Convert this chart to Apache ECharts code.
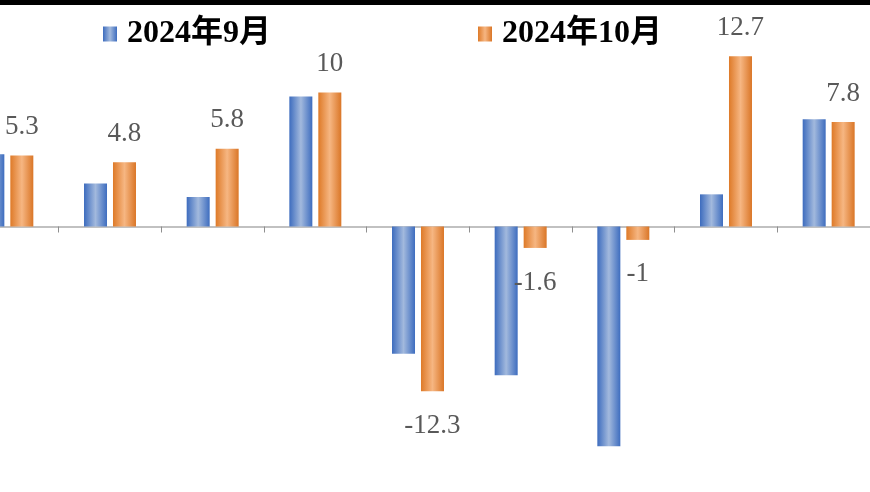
<!DOCTYPE html>
<html>
<head>
<meta charset="utf-8">
<script src="https://cdn.jsdelivr.net/npm/echarts@6/dist/echarts.min.js"></script>
<style>
html,body{margin:0;padding:0;background:#fff;overflow:hidden;width:870px;height:492px;}
#wrap{position:relative;width:870px;height:492px;overflow:hidden;}
/* 图表比窗口宽，左侧第一组被截掉一半 */
#main{position:absolute;left:-44px;top:0;width:924px;height:492px;}
</style>
</head>
<body>
<div id="wrap"><div id="main"></div></div>
<script>
// 数据
var categories = ['类别1', '类别2', '类别3', '类别4', '类别5', '类别6', '类别7', '类别8', '类别9'];
var seriesNames = ['2024年9月', '2024年10月'];
var sepValues = [5.4, 3.2, 2.2, 9.7, -9.5, -11.1, -16.4, 2.4, 8.0];
var octValues = [5.3, 4.8, 5.8, 10, -12.3, -1.6, -1, 12.7, 7.8];

var shiftX = 44; // 画布左移量

var blueGrad = new echarts.graphic.LinearGradient(0, 0, 1, 0, [
    {offset: 0, color: '#3D6CBE'},
    {offset: 0.5, color: '#A2B9DD'},
    {offset: 1, color: '#3E6DBF'}
]);
var orangeGrad = new echarts.graphic.LinearGradient(0, 0, 1, 0, [
    {offset: 0, color: '#DE7A28'},
    {offset: 0.5, color: '#F6B682'},
    {offset: 1, color: '#DA7627'}
]);

// 标签位置按正负
function withLabels(arr){
    var out = [];
    for(var i=0;i<arr.length;i++){
        var v = arr[i];
        out.push({
            value: v,
            label: v >= 0 ? {position: 'top', distance: 15} : {position: 'bottom', distance: 21}
        });
    }
    return out;
}

var legendText = {
    fontSize: 32,
    fontWeight: 'bold',
    color: '#000',
    padding: [0, 0, 0, 5],
    fontFamily: '"Liberation Serif", "Noto Sans CJK SC"'
};

var myChart = echarts.init(document.getElementById('main'));
var option = {
    backgroundColor: '#fff',
    animation: false,
    graphic: [{
        type: 'rect',
        shape: {x: 0, y: 0, width: 924, height: 5},
        style: {fill: '#000'}
    }],
    legend: [{
        data: [{name: seriesNames[0], icon: 'rect'}],
        left: 103 + shiftX,
        top: 18,
        padding: 0,
        itemWidth: 14,
        itemHeight: 15,
        textStyle: legendText
    }, {
        data: [{name: seriesNames[1], icon: 'rect'}],
        left: 478 + shiftX,
        top: 18,
        padding: 0,
        itemWidth: 14,
        itemHeight: 15,
        textStyle: legendText
    }],
    grid: {
        left: 0,
        right: 0,
        top: 25.5,
        bottom: 37.7,
        containLabel: false
    },
    xAxis: {
        type: 'category',
        data: categories,
        axisLine: {show: true, onZero: true, lineStyle: {color: '#ADADAD', width: 1.5}},
        axisTick: {show: true, length: 6, lineStyle: {color: '#8F8F8F', width: 1}},
        axisLabel: {show: false},
        splitLine: {show: false}
    },
    yAxis: {
        type: 'value',
        min: -17,
        max: 15,
        show: false,
        splitLine: {show: false}
    },
    series: [{
        name: seriesNames[0],
        type: 'bar',
        barWidth: 23,
        barGap: '26%',
        itemStyle: {color: blueGrad},
        data: sepValues
    }, {
        name: seriesNames[1],
        type: 'bar',
        barWidth: 23,
        barGap: '26%',
        itemStyle: {color: orangeGrad},
        label: {
            show: true,
            fontSize: 27,
            color: '#595959',
            fontFamily: '"Liberation Serif", serif'
        },
        data: withLabels(octValues)
    }]
};

if (option && typeof option === "object") {
    myChart.setOption(option, true);
}
</script>
</body>
</html>
